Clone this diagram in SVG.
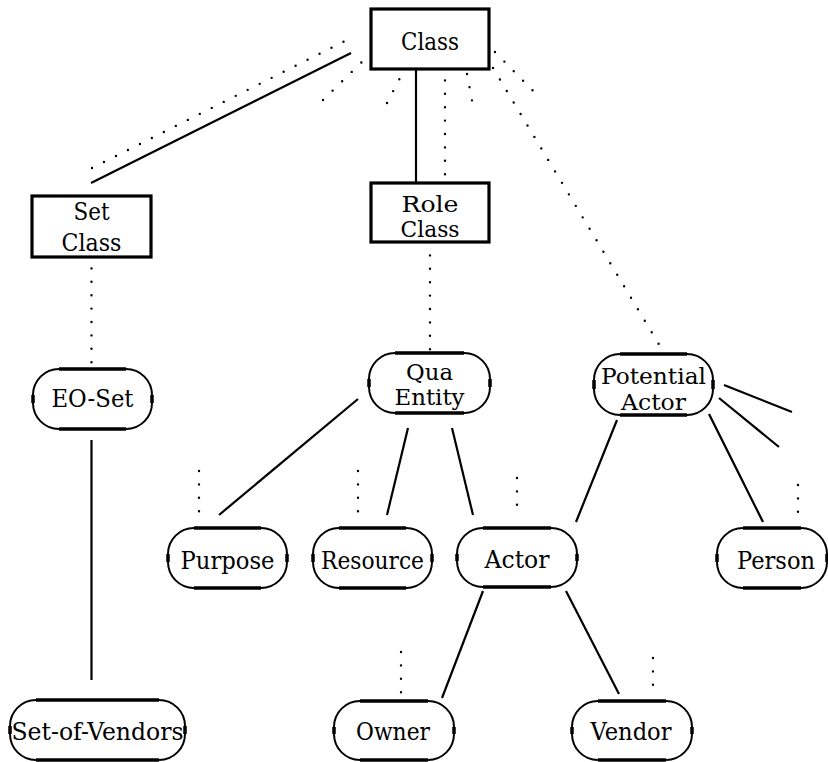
<svg xmlns="http://www.w3.org/2000/svg" width="828" height="762" viewBox="0 0 828 762">
<style>
text{font-family:'DejaVu Serif',serif;font-size:24px;fill:#000;text-anchor:middle}
text.two{font-size:21.5px}
.box{fill:#fff;stroke:#000;stroke-width:3.2}
.oval{fill:#fff;stroke:#000;stroke-width:2}
.edge{stroke:#000;stroke-width:3.5}
.ln{stroke:#000;stroke-width:2.2;fill:none}
.dot{stroke:#000;stroke-width:2.4;stroke-linecap:round;stroke-dasharray:0 13.4;fill:none}
</style>
<rect width="828" height="762" fill="#fff"/>
<g id="connectors">
<line class="ln" x1="351" y1="53" x2="91" y2="183"/>
<line class="ln" x1="416" y1="69" x2="416" y2="183"/>
<line class="ln" x1="91.5" y1="440" x2="91.5" y2="680"/>
<line class="ln" x1="358" y1="399" x2="219" y2="515"/>
<line class="ln" x1="408" y1="428" x2="387" y2="515"/>
<line class="ln" x1="452" y1="428" x2="473" y2="515"/>
<line class="ln" x1="617" y1="420" x2="576" y2="522"/>
<line class="ln" x1="709" y1="414" x2="763" y2="522"/>
<line class="ln" x1="724" y1="385" x2="792" y2="412"/>
<line class="ln" x1="719" y1="398" x2="779" y2="447"/>
<line class="ln" x1="483" y1="591" x2="442" y2="698"/>
<line class="ln" x1="566" y1="591" x2="619" y2="694"/>
<line class="dot" x1="92" y1="168" x2="351" y2="38"/>
<line class="dot" x1="323" y1="100" x2="367" y2="57"/>
<line class="dot" x1="387" y1="103" x2="402" y2="74"/>
<line class="dot" x1="445" y1="67" x2="445" y2="177"/>
<line class="dot" x1="467" y1="74" x2="474" y2="111"/>
<line class="dot" x1="495" y1="52" x2="539" y2="97"/>
<line class="dot" x1="493" y1="68" x2="660" y2="346"/>
<line class="dot" x1="430" y1="242" x2="430" y2="350"/>
<line class="dot" x1="91.5" y1="255" x2="91.5" y2="363"/>
<line class="dot" x1="199" y1="471" x2="199" y2="515"/>
<line class="dot" x1="358" y1="471" x2="358" y2="515"/>
<line class="dot" x1="517" y1="478" x2="517" y2="515"/>
<line class="dot" x1="798" y1="485" x2="798" y2="522"/>
<line class="dot" x1="401" y1="652" x2="401" y2="694"/>
<line class="dot" x1="653" y1="658" x2="653" y2="694"/>
</g>
<g id="class">
<rect class="box" x="371" y="9" width="118" height="60"/>
<text x="430" y="50" textLength="58" lengthAdjust="spacingAndGlyphs">Class</text>
</g>
<g id="role-class">
<rect class="box" x="371" y="183" width="118" height="59"/>
<text class="two" x="430" y="212" textLength="57" lengthAdjust="spacingAndGlyphs">Role</text>
<text class="two" x="430" y="237" textLength="59" lengthAdjust="spacingAndGlyphs">Class</text>
</g>
<g id="set-class">
<rect class="box" x="32" y="196" width="119" height="61"/>
<text x="91.5" y="220" textLength="36" lengthAdjust="spacingAndGlyphs">Set</text>
<text x="91.5" y="251" textLength="60" lengthAdjust="spacingAndGlyphs">Class</text>
</g>
<g id="eo-set">
<rect class="oval" x="33" y="369" width="119" height="60" rx="26" ry="26"/>
<path class="edge" d="M59 369H126M59 429H126M33 395V403M152 395V403"/>
<text x="92.5" y="407" textLength="82" lengthAdjust="spacingAndGlyphs">EO-Set</text>
</g>
<g id="qua-entity">
<rect class="oval" x="369" y="353" width="121" height="60" rx="26" ry="26"/>
<path class="edge" d="M395 353H464M395 413H464M369 379V387M490 379V387"/>
<text class="two" x="429.5" y="380" textLength="47" lengthAdjust="spacingAndGlyphs">Qua</text>
<text class="two" x="429.5" y="405" textLength="70" lengthAdjust="spacingAndGlyphs">Entity</text>
</g>
<g id="potential-actor">
<rect class="oval" x="594" y="354" width="119" height="61" rx="26" ry="26"/>
<path class="edge" d="M620 354H687M620 415H687M594 380V389M713 380V389"/>
<text class="two" x="653.5" y="384" textLength="105" lengthAdjust="spacingAndGlyphs">Potential</text>
<text class="two" x="653.5" y="410" textLength="65" lengthAdjust="spacingAndGlyphs">Actor</text>
</g>
<g id="purpose">
<rect class="oval" x="168" y="528" width="119" height="60" rx="26" ry="26"/>
<path class="edge" d="M194 528H261M194 588H261M168 554V562M287 554V562"/>
<text x="227.5" y="569" textLength="94" lengthAdjust="spacingAndGlyphs">Purpose</text>
</g>
<g id="resource">
<rect class="oval" x="313" y="528" width="119" height="60" rx="26" ry="26"/>
<path class="edge" d="M339 528H406M339 588H406M313 554V562M432 554V562"/>
<text x="372.5" y="569" textLength="103" lengthAdjust="spacingAndGlyphs">Resource</text>
</g>
<g id="actor">
<rect class="oval" x="457" y="528" width="120" height="59" rx="26" ry="26"/>
<path class="edge" d="M483 528H551M483 587H551M457 554V561M577 554V561"/>
<text x="517" y="568" textLength="65" lengthAdjust="spacingAndGlyphs">Actor</text>
</g>
<g id="person">
<rect class="oval" x="717" y="528" width="110" height="60" rx="26" ry="26"/>
<path class="edge" d="M743 528H801M743 588H801M717 554V562M827 554V562"/>
<text x="776" y="569" textLength="78" lengthAdjust="spacingAndGlyphs">Person</text>
</g>
<g id="set-of-vendors">
<rect class="oval" x="10" y="700" width="175" height="60" rx="26" ry="26"/>
<path class="edge" d="M36 700H159M36 760H159M10 726V734M185 726V734"/>
<text x="97.5" y="740" textLength="172" lengthAdjust="spacingAndGlyphs">Set-of-Vendors</text>
</g>
<g id="owner">
<rect class="oval" x="334" y="701" width="120" height="59" rx="26" ry="26"/>
<path class="edge" d="M360 701H428M360 760H428M334 727V734M454 727V734"/>
<text x="393" y="740" textLength="74" lengthAdjust="spacingAndGlyphs">Owner</text>
</g>
<g id="vendor">
<rect class="oval" x="572" y="701" width="120" height="59" rx="26" ry="26"/>
<path class="edge" d="M598 701H666M598 760H666M572 727V734M692 727V734"/>
<text x="631" y="740" textLength="81" lengthAdjust="spacingAndGlyphs">Vendor</text>
</g>
</svg>
